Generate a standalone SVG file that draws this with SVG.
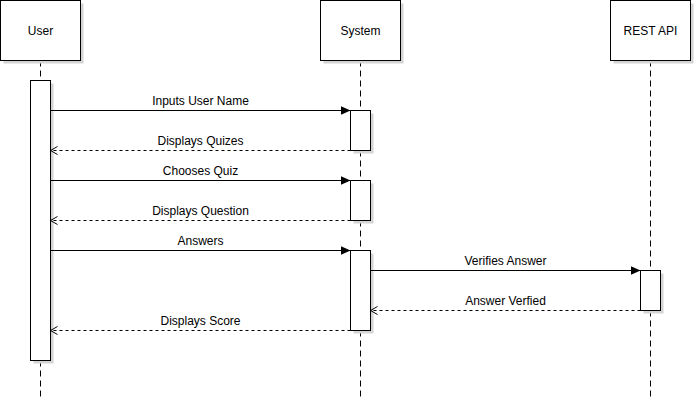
<svg xmlns="http://www.w3.org/2000/svg" width="695" height="405" viewBox="0 0 695 405">
<style>
.box{fill:#fff;stroke:#000;stroke-width:1}
.sh{fill:#d4d4d4;stroke:none}
.life{stroke:#000;stroke-width:1;stroke-dasharray:6 4;fill:none}
.msg{stroke:#000;stroke-width:1;fill:none}
.ret{stroke:#000;stroke-width:1;fill:none;stroke-dasharray:3 3}
text{font-family:"Liberation Sans",Arial,sans-serif;font-size:12px;fill:#000;text-anchor:middle}
</style>
<defs>
<marker id="filled" markerWidth="10" markerHeight="10" refX="10" refY="5" orient="auto" markerUnits="userSpaceOnUse">
<path d="M0,0.5 L10,5 L0,9.5 Z" fill="#000"/>
</marker>
<marker id="open" markerWidth="9" markerHeight="10" refX="8" refY="5" orient="auto" markerUnits="userSpaceOnUse">
<path d="M1,1 L8,5 L1,9" fill="none" stroke="#000" stroke-width="1"/>
</marker>
</defs>
<rect width="695" height="405" fill="#fff"/>
<g transform="translate(0.5,0.5)">
<g id="lifelines">
<line class="life" x1="40" y1="60" x2="40" y2="396"/>
<line class="life" x1="360" y1="60" x2="360" y2="396"/>
<line class="life" x1="650" y1="60" x2="650" y2="396"/>
</g>
<g id="user">
<rect class="sh" x="3" y="3" width="80" height="60"/>
<rect class="box" x="0" y="0" width="80" height="60"/>
<text x="40" y="34">User</text>
</g>
<g id="system">
<rect class="sh" x="323" y="3" width="80" height="60"/>
<rect class="box" x="320" y="0" width="80" height="60"/>
<text x="360" y="34">System</text>
</g>
<g id="restapi">
<rect class="sh" x="613" y="3" width="80" height="60"/>
<rect class="box" x="610" y="0" width="80" height="60"/>
<text x="650" y="34">REST API</text>
</g>
<g id="user-activation">
<rect class="sh" x="33" y="83" width="20" height="280"/>
<rect class="box" x="30" y="80" width="20" height="280"/>
</g>
<g id="system-activation-1">
<rect class="sh" x="353" y="113" width="20" height="40"/>
<rect class="box" x="350" y="110" width="20" height="40"/>
</g>
<g id="system-activation-2">
<rect class="sh" x="353" y="183" width="20" height="40"/>
<rect class="box" x="350" y="180" width="20" height="40"/>
</g>
<g id="system-activation-3">
<rect class="sh" x="353" y="253" width="20" height="80"/>
<rect class="box" x="350" y="250" width="20" height="80"/>
</g>
<g id="rest-activation">
<rect class="sh" x="643" y="273" width="20" height="40"/>
<rect class="box" x="640" y="270" width="20" height="40"/>
</g>
<g id="connectors">
<line class="msg" x1="50" y1="110" x2="350" y2="110" marker-end="url(#filled)"/>
<text x="200" y="104">Inputs User Name</text>
<line class="ret" x1="350" y1="150" x2="50" y2="150" marker-end="url(#open)"/>
<text x="200" y="144">Displays Quizes</text>
<line class="msg" x1="50" y1="180" x2="350" y2="180" marker-end="url(#filled)"/>
<text x="200" y="174">Chooses Quiz</text>
<line class="ret" x1="350" y1="220" x2="50" y2="220" marker-end="url(#open)"/>
<text x="200" y="214">Displays Question</text>
<line class="msg" x1="50" y1="250" x2="350" y2="250" marker-end="url(#filled)"/>
<text x="200" y="244">Answers</text>
<line class="msg" x1="370" y1="270" x2="640" y2="270" marker-end="url(#filled)"/>
<text x="505" y="264">Verifies Answer</text>
<line class="ret" x1="640" y1="310" x2="370" y2="310" marker-end="url(#open)"/>
<text x="505" y="304">Answer Verfied</text>
<line class="ret" x1="350" y1="330" x2="50" y2="330" marker-end="url(#open)"/>
<text x="200" y="324">Displays Score</text>
</g>
</g>
</svg>
